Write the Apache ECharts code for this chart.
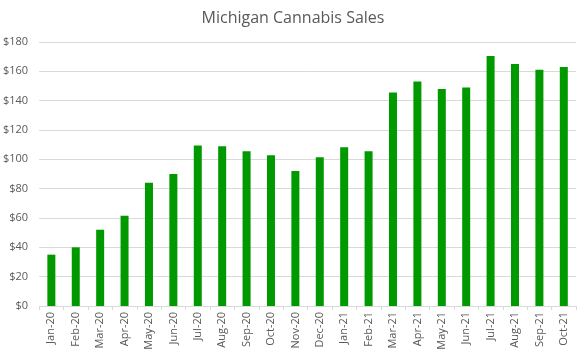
<!DOCTYPE html>
<html>
<head>
<meta charset="utf-8">
<script src="https://cdn.jsdelivr.net/npm/echarts@6/dist/echarts.min.js"></script>
<style>html,body{margin:0;padding:0;background:#fff;}#c{width:586px;height:359px;}</style>
</head>
<body>
<div id="c"></div>
<script>
var categories = ["Jan-20","Feb-20","Mar-20","Apr-20","May-20","Jun-20","Jul-20","Aug-20","Sep-20","Oct-20","Nov-20","Dec-20","Jan-21","Feb-21","Mar-21","Apr-21","May-21","Jun-21","Jul-21","Aug-21","Sep-21","Oct-21"];
var sales = [35, 40, 52, 61.5, 84, 90, 109.5, 109, 105.5, 102.7, 92, 101.5, 108.2, 105.5, 145.5, 153, 148, 149, 170.5, 165, 161, 163];
var yTicks = [0, 20, 40, 60, 80, 100, 120, 140, 160, 180];

var chart = echarts.init(document.getElementById('c'), null, {renderer: 'canvas'});
chart.setOption({
  animation: false,
  backgroundColor: '#ffffff',
  title: {
    text: 'Michigan Cannabis Sales',
    left: 'center',
    top: 5,
    textStyle: {fontFamily: 'Open Sans', fontSize: 16, fontWeight: 'normal', color: '#595959'}
  },
  grid: {left: 38, right: 10, top: 42, bottom: 53},
  xAxis: {
    type: 'category',
    data: categories,
    axisLine: {lineStyle: {color: '#d9d9d9'}},
    axisTick: {show: true, length: 4, lineStyle: {color: '#d9d9d9'}},
    axisLabel: {rotate: 90, fontFamily: 'Open Sans', fontSize: 11, color: '#595959', margin: 6}
  },
  yAxis: {
    type: 'value',
    min: yTicks[0],
    max: yTicks[yTicks.length - 1],
    interval: 20,
    axisLine: {show: false},
    axisTick: {show: false},
    splitLine: {lineStyle: {color: '#d9d9d9'}},
    axisLabel: {fontFamily: 'Open Sans', fontSize: 11, color: '#595959', margin: 11, formatter: function(v){return '$' + v;}}
  },
  series: [{
    type: 'bar',
    data: sales,
    barWidth: 8,
    itemStyle: {color: '#009900'}
  }]
});
</script>
</body>
</html>
